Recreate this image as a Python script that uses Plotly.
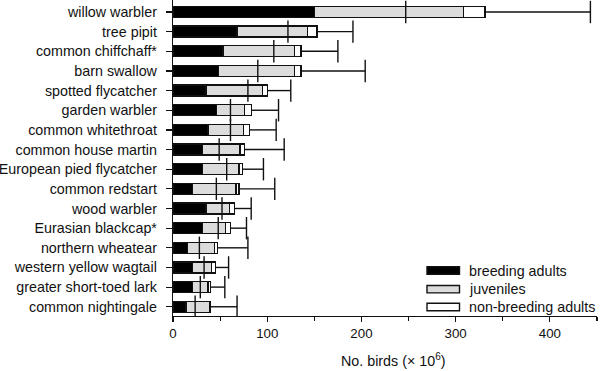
import plotly.graph_objects as go

species = ["willow warbler", "tree pipit", "common chiffchaff*", "barn swallow",
           "spotted flycatcher", "garden warbler", "common whitethroat",
           "common house martin", "European pied flycatcher", "common redstart",
           "wood warbler", "Eurasian blackcap*", "northern wheatear",
           "western yellow wagtail", "greater short-toed lark", "common nightingale"]
breeding = [150, 68, 53, 48, 35, 46, 37, 31, 31, 21, 35, 31, 15.5, 21, 21, 14]
juveniles = [158, 75, 76, 81, 60, 30, 38, 40, 39, 46, 25, 25, 28.5, 20, 16, 25]
nonbreeding = [23, 10, 7, 7, 5, 7, 6, 5, 4, 3, 5, 5, 3, 4, 3, 1]
lower = [247, 122, 107, 90, 79.5, 61, 61, 49, 57, 46, 52, 48, 28, 33, 29, 23.5]
upper = [443, 191, 175, 204, 125, 112, 109.5, 118, 96, 108, 83, 78, 79.5, 59, 55, 68]
series_names = ["breeding adults", "juveniles", "non-breeding adults"]
series_colors = ["#000000", "#dcdcdc", "#ffffff"]
x_ticks = [0, 100, 200, 300, 400]

FONT = "Liberation Sans, Arial, sans-serif"
LW = 1.4

totals = [b + j + n for b, j, n in zip(breeding, juveniles, nonbreeding)]

fig = go.Figure()
for name, vals, col in zip(series_names, [breeding, juveniles, nonbreeding], series_colors):
    fig.add_trace(go.Bar(
        y=species, x=vals, orientation="h", name=name,
        marker=dict(color=col, line=dict(color="#111111", width=LW)),
        width=0.56, showlegend=False))

# upper whiskers
wx, wy = [], []
for s, t, u in zip(species, totals, upper):
    wx += [t, u, None]
    wy += [s, s, None]
fig.add_trace(go.Scatter(x=wx, y=wy, mode="lines",
                         line=dict(color="#111111", width=LW), showlegend=False,
                         hoverinfo="skip"))
# upper caps
fig.add_trace(go.Scatter(x=upper, y=species, mode="markers",
                         marker=dict(symbol="line-ns", size=16,
                                     line=dict(color="#111111", width=LW)),
                         showlegend=False))
# lower marks
fig.add_trace(go.Scatter(x=lower, y=species, mode="markers",
                         marker=dict(symbol="line-ns", size=16,
                                     line=dict(color="#111111", width=LW)),
                         showlegend=False))

L, R, T, B = 173, 3, 0, 55
W, H = 600 - L - R, 371 - T - B

def px(x):
    return (x - L) / W

def py(y):
    return 1 - (y - T) / H

shapes = []
annotations = []
leg_y = [270.5, 289.2, 307.0]
for name, col, yc in zip(series_names, series_colors, leg_y):
    shapes.append(dict(type="rect", xref="paper", yref="paper",
                       x0=px(427), x1=px(459.5), y0=py(yc - 3.7), y1=py(yc + 3.7),
                       fillcolor=col, line=dict(color="#111111", width=LW)))
    annotations.append(dict(xref="paper", yref="paper", x=px(467), y=py(yc),
                            xanchor="left", yanchor="middle", text=name,
                            showarrow=False, font=dict(family=FONT, size=14.3, color="#111111")))

annotations.append(dict(xref="paper", yref="paper", x=px(393), y=py(360),
                        xanchor="center", yanchor="middle",
                        text="No. birds (\u00d7 10<sup>6</sup>)", showarrow=False,
                        font=dict(family=FONT, size=14.3, color="#111111")))

fig.update_layout(
    barmode="stack",
    width=600, height=371,
    margin=dict(l=L, r=R, t=T, b=B, pad=0, autoexpand=False),
    paper_bgcolor="white", plot_bgcolor="white",
    font=dict(family=FONT, size=14, color="#111111"),
    shapes=shapes, annotations=annotations,
    xaxis=dict(range=[0, 450], tickvals=x_ticks, ticks="outside", ticklen=5,
               tickwidth=1.2, tickcolor="#111111", showline=True, linecolor="#111111",
               linewidth=1.2, showgrid=False, zeroline=False, automargin=False,
               tickfont=dict(family=FONT, size=13.3, color="#111111"),
               minor=dict(dtick=50, tick0=50, ticks="outside", ticklen=4,
                          tickwidth=1.2, tickcolor="#111111", showgrid=False)),
    yaxis=dict(type="category", categoryorder="array", categoryarray=species,
               range=[15.47, -0.61], ticks="outside", ticklen=6, tickwidth=1.2,
               tickcolor="#111111", showline=True, linecolor="#111111",
               linewidth=1.2, showgrid=False, zeroline=False, automargin=False,
               ticklabelstandoff=6,
               tickfont=dict(family=FONT, size=14.3, color="#111111")),
)

fig.write_html("out.html", config={"displayModeBar": False, "staticPlot": True},
               post_script="document.body.style.margin='0';document.body.style.overflow='hidden';")
